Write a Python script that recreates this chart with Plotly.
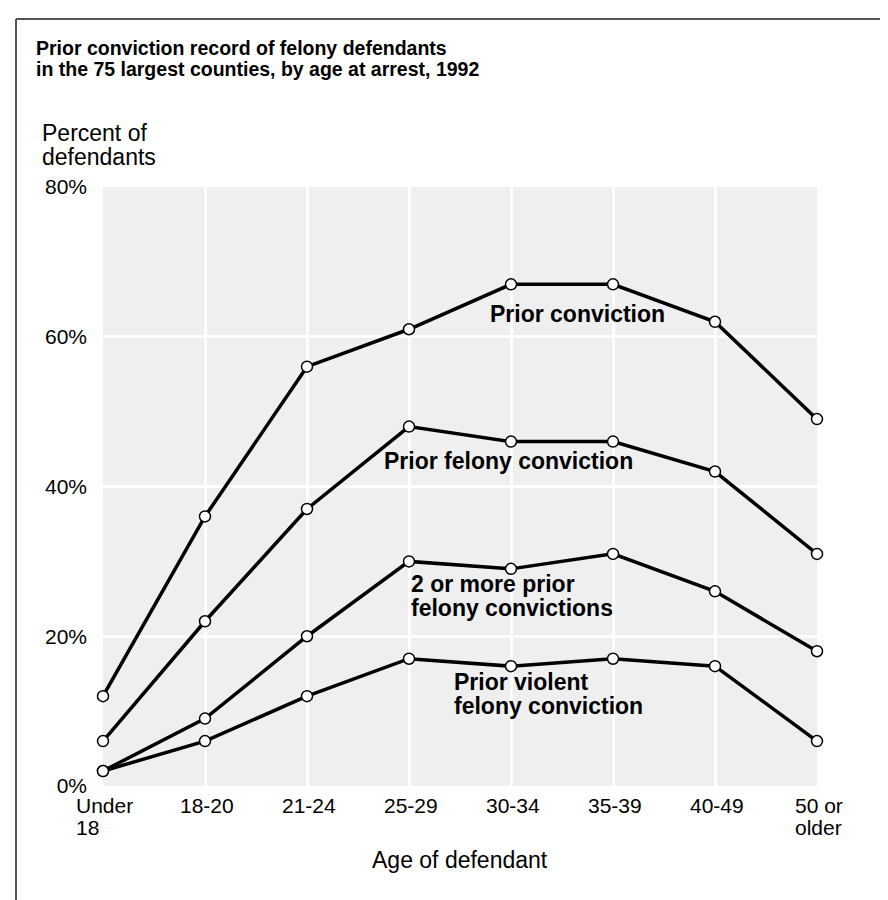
import plotly.graph_objects as go

# ---- data ----
age_groups = ["Under 18", "18-20", "21-24", "25-29", "30-34", "35-39", "40-49", "50 or older"]
tick_lines = [["Under", "18"], ["18-20"], ["21-24"], ["25-29"], ["30-34"], ["35-39"], ["40-49"], ["50 or", "older"]]
prior_conviction = [12, 36, 56, 61, 67, 67, 62, 49]
prior_felony = [6, 22, 37, 48, 46, 46, 42, 31]
two_or_more_felony = [2, 9, 20, 30, 29, 31, 26, 18]
prior_violent_felony = [2, 6, 12, 17, 16, 17, 16, 6]
y_ticks = [0, 20, 40, 60, 80]
y_ticktext = ["0%", "20%", "40%", "60%", "80%"]

W, H = 888, 900
L, R, T, B = 95, 79, 179, 122
PW, PH = W - L - R, H - T - B
FONT = "Arial, Liberation Sans, Helvetica, sans-serif"

xs = list(range(len(age_groups)))

fig = go.Figure()
for series in [prior_conviction, prior_felony, two_or_more_felony, prior_violent_felony]:
    fig.add_trace(go.Scatter(
        x=xs, y=series, mode="lines+markers", cliponaxis=False,
        line=dict(color="black", width=3.5),
        marker=dict(size=11, color="white", line=dict(color="black", width=1.5)),
        hoverinfo="skip", showlegend=False))


def px2paper_x(px):
    return (px - L) / PW


def px2paper_y(py):
    return (H - B - py) / PH


annotations = []


def ann(text, x, y, xref="paper", yref="paper", xanchor="left", size=20, bold=False, xshift=0):
    annotations.append(dict(
        text=f"<b>{text}</b>" if bold else text, x=x, y=y, xref=xref, yref=yref,
        xanchor=xanchor, yanchor="middle", showarrow=False, xshift=xshift,
        font=dict(family=FONT, size=size, color="black")))


# title
ann("Prior conviction record of felony defendants", px2paper_x(26), px2paper_y(40.4), size=19.5, bold=True)
ann("in the 75 largest counties, by age at arrest, 1992", px2paper_x(26), px2paper_y(60.9), size=19.5, bold=True)
# y axis title
ann("Percent of", px2paper_x(31.7), px2paper_y(125), size=23)
ann("defendants", px2paper_x(31.7), px2paper_y(149), size=23)
# x axis title
ann("Age of defendant", 0.5, px2paper_y(852), xanchor="center", size=23)

# x tick labels (left-aligned blocks)
AW = {"U": 722, "n": 556, "d": 556, "e": 556, "r": 333, "o": 556, "l": 222, " ": 278,
      "0": 556, "1": 556, "2": 556, "3": 556, "4": 556, "5": 556, "8": 556, "9": 556, "-": 333}
TS = 21
for i, lines in enumerate(tick_lines):
    wmax = max(sum(AW.get(c, 556) for c in ln) for ln in lines) * TS / 1000
    for j, ln in enumerate(lines):
        ann(ln, i, px2paper_y(797.9 + 21.5 * j), xref="x", xanchor="left", size=TS, xshift=-wmax / 2)

# series labels (data coordinates)
LS = 23
ann("Prior conviction", 4.65, 63.0, xref="x", yref="y", xanchor="center", size=LS, bold=True)
ann("Prior felony conviction", 3.98, 43.4, xref="x", yref="y", xanchor="center", size=LS, bold=True)
ann("2 or more prior", 3.0, 26.95, xref="x", yref="y", xanchor="left", size=LS, bold=True)
ann("felony convictions", 3.0, 23.75, xref="x", yref="y", xanchor="left", size=LS, bold=True)
ann("Prior violent", 3.42, 13.95, xref="x", yref="y", xanchor="left", size=LS, bold=True)
ann("felony conviction", 3.42, 10.75, xref="x", yref="y", xanchor="left", size=LS, bold=True)

shapes = [
    dict(type="line", xref="paper", yref="paper", x0=px2paper_x(8), x1=px2paper_x(8),
         y0=px2paper_y(11), y1=px2paper_y(910), line=dict(color="#555555", width=2)),
    dict(type="line", xref="paper", yref="paper", x0=px2paper_x(8), x1=px2paper_x(900),
         y0=px2paper_y(11), y1=px2paper_y(11), line=dict(color="#555555", width=2)),
]

fig.update_layout(
    width=W, height=H, margin=dict(l=L, r=R, t=T, b=B, pad=0),
    paper_bgcolor="white", plot_bgcolor="#efefef",
    font=dict(family=FONT, size=21, color="black"),
    annotations=annotations, shapes=shapes, showlegend=False,
    xaxis=dict(range=[0, len(age_groups) - 1], tickmode="array", tickvals=xs, ticktext=age_groups,
               showticklabels=False, showgrid=True, gridcolor="white", gridwidth=3,
               zeroline=False, showline=False, fixedrange=True),
    yaxis=dict(range=[0, 80], tickmode="array", tickvals=y_ticks, ticktext=y_ticktext,
               showgrid=True, gridcolor="white", gridwidth=3, zeroline=False, showline=False,
               ticks="", ticklabelstandoff=15, tickfont=dict(size=21), fixedrange=True),
)

fig.write_html("out.html")
